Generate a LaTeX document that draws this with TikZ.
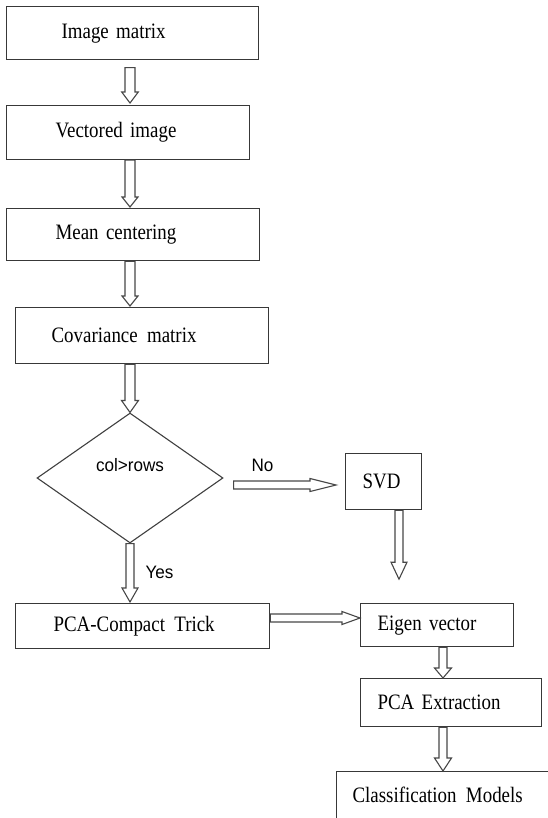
\documentclass[tikz,border=0pt]{standalone}
\usepackage{fontspec}
\setmainfont{Liberation Serif}
\newfontfamily\boxfont{Liberation Serif}[FakeStretch=0.86]
\newfontfamily\lblfont{Liberation Sans}[FakeStretch=0.95]
\usetikzlibrary{shapes.geometric,calc}
\tikzset{
  x=1pt, y=-1pt,
  box/.style={draw=black!78, line width=1.2pt, rectangle, anchor=north west, align=left,
    font=\boxfont\fontsize{22}{24}\selectfont, inner ysep=0pt},
  lbl/.style={font=\lblfont\fontsize{18}{20}\selectfont, inner sep=0pt},
  arr/.style={draw=black!72, line width=1.1pt, line join=miter},
  adims/.code n args={3}{\def\aw{#1pt}\def\ahw{#2pt}\def\al{#3pt}},
  darrow/.style n args={3}{adims={#1}{#2}{#3}, to path={
    ([xshift=-\aw]\tikztostart) -- ([xshift=-\aw, yshift=\al]\tikztotarget)
    -- ([xshift=-\ahw, yshift=\al]\tikztotarget) -- (\tikztotarget)
    -- ([xshift=\ahw, yshift=\al]\tikztotarget) -- ([xshift=\aw, yshift=\al]\tikztotarget)
    -- ([xshift=\aw]\tikztostart) -- cycle}},
  rarrow/.style n args={3}{adims={#1}{#2}{#3}, to path={
    ([yshift=\aw]\tikztostart) -- ([yshift=\aw, xshift=-\al]\tikztotarget)
    -- ([yshift=\ahw, xshift=-\al]\tikztotarget) -- (\tikztotarget)
    -- ([yshift=-\ahw, xshift=-\al]\tikztotarget) -- ([yshift=-\aw, xshift=-\al]\tikztotarget)
    -- ([yshift=-\aw]\tikztostart) -- cycle}},
}
\begin{document}
\begin{tikzpicture}
\useasboundingbox (0,0) rectangle (548,818);
\fill[white] (0,0) rectangle (548,818);

% column / row references
\coordinate (colA) at (130,0);
\coordinate (colS) at (399,0);
\coordinate (colE) at (443,0);
\coordinate (rowN) at (0,485);
\coordinate (rowP) at (0,618);

% boxes
\node[box, minimum height=53pt, text width=142pt, inner xsep=55pt] (img) at (6,6) {Image matrix};
\node[box, minimum height=54pt, text width=145pt, inner xsep=49pt] (vec) at (6,105) {Vectored image};
\node[box, minimum height=52pt, text width=155pt, inner xsep=49pt] (mean) at (6,208) {Mean centering};
\node[box, minimum height=56pt, text width=181pt, inner xsep=36pt] (cov) at (15,307) {Covariance\hspace{2pt} matrix};
\node[draw=black!75, line width=1.1pt, diamond, shape aspect=1.43, minimum width=186pt, minimum height=130pt, inner sep=0pt,
      label={[lbl, name=condlbl, yshift=13pt]center:col>rows}] (cond) at (130,478) {};
\node[box, minimum height=56pt, text width=42pt, inner xsep=17pt] (svd) at (345,453) {SVD};
\node[box, minimum height=45pt, text width=178pt, inner xsep=38pt] (pca) at (15,603) {PCA-Compact\hspace{2pt} Trick};
\node[box, minimum height=43pt, text width=119pt, inner xsep=17pt] (eig) at (360,603) {Eigen vector};
\node[box, minimum height=48pt, text width=147pt, inner xsep=17pt] (ext) at (360,678) {PCA Extraction};
\node[box, minimum height=47pt, text width=192pt, inner xsep=16pt] (cls) at (336,771) {Classification\hspace{2pt} Models};

% labels
\node[lbl] (nolbl) at (262.5,465) {No};
\node[lbl] (yeslbl) at (159.5,572) {Yes};

% connectors
\draw[arr] ([yshift=-7.5pt]img.south -| colA) to[darrow={5}{8.3}{11}] ([yshift=2pt]vec.north -| colA);
\draw[arr] (vec.south -| colA) to[darrow={5}{8}{10}] ([yshift=1pt]mean.north -| colA);
\draw[arr] (mean.south -| colA) to[darrow={5}{8}{10}] ([yshift=1pt]cov.north -| colA);
\draw[arr] (cov.south -| colA) to[darrow={5}{8.5}{12}] (cond.north);
\draw[arr] ([xshift=10pt]cond.east |- rowN) to[rarrow={4}{6.5}{26}] ([xshift=-9pt]svd.west |- rowN);
\draw[arr] (svd.south -| colS) to[darrow={4}{8}{17}] ([yshift=-69pt]svd.south -| colS);
\draw[arr] (cond.south) to[darrow={4}{8}{14}] ([yshift=1pt]pca.north -| colA);
\draw[arr] (pca.east |- rowP) to[rarrow={4}{6.5}{18}] (eig.west |- rowP);
\draw[arr] (eig.south -| colE) to[darrow={4}{8.5}{10}] (ext.north -| colE);
\draw[arr] (ext.south -| colE) to[darrow={4}{8.5}{13}] (cls.north -| colE);
\end{tikzpicture}
\end{document}
